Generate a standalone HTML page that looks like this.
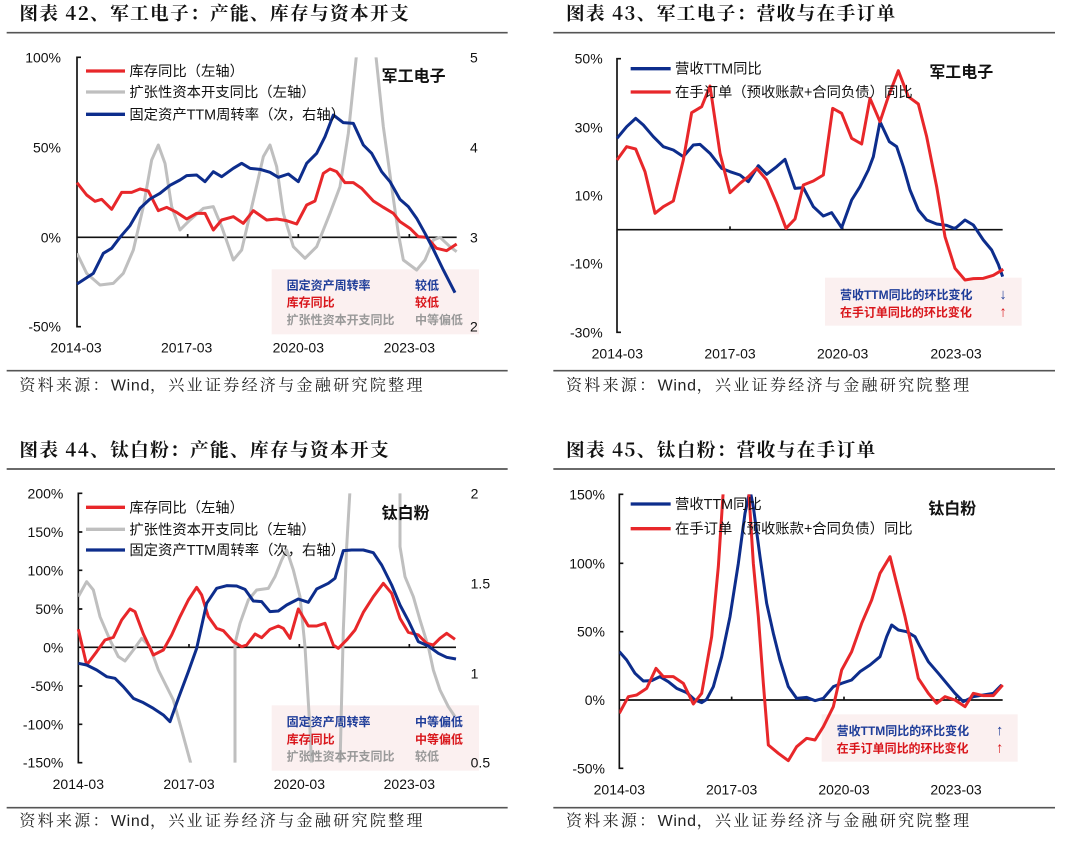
<!DOCTYPE html>
<html><head><meta charset="utf-8"><style>
html,body{margin:0;padding:0;background:#fff;}
svg{display:block;font-family:"Liberation Sans","Noto Sans CJK SC",sans-serif;}
.t{font-size:56px;font-weight:bold;fill:#111;letter-spacing:4px;font-family:"Noto Serif CJK SC","Liberation Serif",serif;}
.tk{font-size:42px;fill:#111;}
.lg{font-size:43px;fill:#111;}
.nm{font-size:48px;font-weight:bold;fill:#111;}
.an{font-size:36px;font-weight:bold;}
.ar{font-size:44px;}
.ft{font-size:48px;fill:#222;letter-spacing:7px;font-family:"Noto Serif CJK SC","Liberation Serif",serif;}
.ft tspan{font-family:"Liberation Sans",sans-serif;letter-spacing:2px;}
.r{fill:none;stroke:#e8272a;stroke-width:9;stroke-linejoin:round;}
.b{fill:none;stroke:#0d2d8c;stroke-width:9;stroke-linejoin:round;}
.g{fill:none;stroke:#bfbfbf;stroke-width:9;stroke-linejoin:round;}
.ax{stroke:#111;stroke-width:5;fill:none;}
.sep{stroke:#555;stroke-width:5;}
</style></head><body>
<svg width="1080" height="843" viewBox="0 0 1080 843" xmlns="http://www.w3.org/2000/svg">
<defs>
<clipPath id="c1"><rect x="231" y="172" width="1200" height="808"/></clipPath>
<clipPath id="c3"><rect x="235" y="190" width="1200" height="808"/></clipPath>
<clipPath id="c4"><rect x="238" y="193" width="1200" height="822"/></clipPath>
</defs>

<!-- Chart 42 -->
<g transform="scale(0.33333)">
<text class="t" x="58" y="60">图表 42、军工电子：产能、库存与资本开支</text>
<line class="sep" x1="20" y1="98" x2="1523" y2="98"/>
<rect x="815" y="808" width="622" height="195" fill="#fbf0f0"/>
<path class="ax" d="M243 172H231V980H243"/>
<line class="ax" x1="231" y1="712" x2="1370" y2="712"/>
<path class="ax" d="M563 712v-10M895 712v-10M1228 712v-10"/>
<g class="tk" text-anchor="end"><text x="183" y="187">100%</text><text x="183" y="457">50%</text><text x="183" y="727">0%</text><text x="183" y="995">-50%</text></g>
<g class="tk"><text x="1410" y="187">5</text><text x="1410" y="457">4</text><text x="1410" y="727">3</text><text x="1410" y="995">2</text></g>
<g class="tk" text-anchor="middle"><text x="228" y="1058">2014-03</text><text x="560" y="1058">2017-03</text><text x="895" y="1058">2020-03</text><text x="1228" y="1058">2023-03</text></g>
<g clip-path="url(#c1)">
<polyline class="g" points="231,760 260,820 300,855 340,850 370,820 400,750 430,620 455,480 475,435 495,490 515,620 540,690 570,660 610,625 640,620 665,680 700,780 725,750 760,600 790,470 810,435 830,500 850,640 880,740 915,775 950,740 990,640 1020,560 1045,400 1070,160 1080,100"/>
<polyline class="g" points="1120,100 1128,170 1150,380 1175,560 1195,700 1210,780 1250,810 1275,780 1300,720 1320,712 1350,740 1370,755"/>
</g>
<polyline class="r" points="231,548 260,585 285,604 305,598 335,628 365,577 395,577 420,567 445,573 475,632 500,622 530,637 560,657 590,640 615,640 640,690 665,660 700,650 730,670 760,632 800,660 830,657 860,662 890,672 920,615 945,603 970,520 990,507 1010,515 1035,548 1060,548 1085,565 1120,603 1150,622 1180,640 1200,665 1230,685 1255,710 1280,712 1310,745 1340,752 1370,732"/>
<polyline class="b" points="231,852 280,820 310,760 335,745 360,712 390,677 420,625 450,597 480,580 510,556 540,540 560,527 590,525 615,545 640,515 665,530 700,505 725,490 750,505 780,508 810,517 835,532 865,522 895,545 920,490 950,460 975,410 1000,345 1030,368 1060,370 1090,435 1115,460 1145,515 1170,545 1200,598 1225,620 1250,655 1275,700 1300,748 1330,810 1365,878"/>
<line x1="258" y1="213" x2="375" y2="213" stroke="#e8272a" stroke-width="10"/>
<line x1="258" y1="276" x2="375" y2="276" stroke="#bfbfbf" stroke-width="10"/>
<line x1="258" y1="343" x2="375" y2="343" stroke="#0d2d8c" stroke-width="10"/>
<g class="lg"><text x="388" y="228">库存同比（左轴）</text><text x="388" y="291">扩张性资本开支同比（左轴）</text><text x="388" y="358">固定资产TTM周转率（次，右轴）</text></g>
<text class="nm" x="1145" y="245">军工电子</text>
<g class="an"><text x="860" y="868" fill="#1f3d99">固定资产周转率</text><text x="1245" y="868" fill="#1f3d99">较低</text>
<text x="860" y="920" fill="#d9161b">库存同比</text><text x="1245" y="920" fill="#d9161b">较低</text>
<text x="860" y="972" fill="#999">扩张性资本开支同比</text><text x="1245" y="972" fill="#999">中等偏低</text></g>
<line class="sep" x1="20" y1="1112" x2="1523" y2="1112"/>
<text class="ft" x="58" y="1172">资料来源：<tspan>Wind</tspan>，兴业证券经济与金融研究院整理</text>
</g>

<!-- Chart 43 -->
<g transform="translate(540,0) scale(0.33333)">
<text class="t" x="78" y="60">图表 43、军工电子：营收与在手订单</text>
<line class="sep" x1="40" y1="98" x2="1545" y2="98"/>
<rect x="855" y="833" width="590" height="144" fill="#fbf0f0"/>
<path class="ax" d="M243 176H231V997H243"/>
<line class="ax" x1="231" y1="689" x2="1388" y2="689"/>
<path class="ax" d="M570 689v-10M908 689v-10M1246 689v-10"/>
<g class="tk" text-anchor="end"><text x="188" y="191">50%</text><text x="188" y="397">30%</text><text x="188" y="602">10%</text><text x="188" y="806">-10%</text><text x="188" y="1012">-30%</text></g>
<g class="tk" text-anchor="middle"><text x="232" y="1075">2014-03</text><text x="570" y="1075">2017-03</text><text x="908" y="1075">2020-03</text><text x="1248" y="1075">2023-03</text></g>
<polyline class="b" points="231,415 260,380 287,355 310,375 340,410 370,440 400,450 430,470 460,435 480,433 510,460 545,505 570,515 600,525 625,545 655,497 680,523 710,500 735,478 765,565 790,563 820,620 850,648 875,638 905,683 935,600 960,560 985,510 1000,470 1020,365 1048,425 1070,440 1090,500 1110,570 1135,630 1160,660 1190,672 1220,676 1245,686 1275,660 1300,675 1330,720 1355,750 1375,793 1388,830"/>
<polyline class="r" points="231,480 260,440 287,447 315,515 345,640 370,620 400,603 430,480 455,338 485,320 510,258 540,460 570,578 600,550 625,530 650,505 680,540 710,610 738,685 765,657 790,555 820,543 850,525 878,325 905,340 935,415 965,432 990,295 1020,365 1045,290 1075,212 1105,290 1135,312 1160,410 1190,560 1215,710 1245,805 1275,840 1300,836 1330,835 1360,826 1390,808"/>
<line x1="272" y1="206" x2="392" y2="206" stroke="#0d2d8c" stroke-width="10"/>
<line x1="272" y1="276" x2="392" y2="276" stroke="#e8272a" stroke-width="10"/>
<g class="lg"><text x="405" y="221">营收TTM同比</text><text x="405" y="291">在手订单（预收账款+合同负债）同比</text></g>
<text class="nm" x="1168" y="232">军工电子</text>
<g class="an"><text x="900" y="897" fill="#1f3d99">营收TTM同比的环比变化</text><text class="ar" x="1378" y="897" fill="#1f3d99">↓</text>
<text x="900" y="949" fill="#d9161b">在手订单同比的环比变化</text><text class="ar" x="1378" y="949" fill="#d9161b">↑</text></g>
<line class="sep" x1="40" y1="1112" x2="1545" y2="1112"/>
<text class="ft" x="78" y="1172">资料来源：<tspan>Wind</tspan>，兴业证券经济与金融研究院整理</text>
</g>

<!-- Chart 44 -->
<g transform="translate(0,430) scale(0.33333)">
<text class="t" x="58" y="80">图表 44、钛白粉：产能、库存与资本开支</text>
<line class="sep" x1="20" y1="117" x2="1523" y2="117"/>
<rect x="815" y="826" width="622" height="196" fill="#fbf0f0"/>
<path class="ax" d="M247 190H235V998H247"/>
<path class="ax" d="M235 306h12M235 421h12M235 537h12M235 768h12M235 883h12"/>
<line class="ax" x1="235" y1="652" x2="1368" y2="652"/>
<path class="ax" d="M567 652v-10M898 652v-10M1228 652v-10"/>
<g class="tk" text-anchor="end"><text x="190" y="205">200%</text><text x="190" y="321">150%</text><text x="190" y="436">100%</text><text x="190" y="552">50%</text><text x="190" y="667">0%</text><text x="190" y="783">-50%</text><text x="190" y="898">-100%</text><text x="190" y="1013">-150%</text></g>
<g class="tk"><text x="1412" y="205">2</text><text x="1412" y="475">1.5</text><text x="1412" y="745">1</text><text x="1412" y="1013">0.5</text></g>
<g class="tk" text-anchor="middle"><text x="235" y="1077">2014-03</text><text x="567" y="1077">2017-03</text><text x="898" y="1077">2020-03</text><text x="1228" y="1077">2023-03</text></g>
<g clip-path="url(#c3)">
<polyline class="g" points="235,500 260,455 280,480 300,560 330,630 355,680 375,693 400,660 425,625 450,650 475,720 500,770 520,810 545,900 575,1010"/>
<polyline class="g" points="705,1010 705,640 720,580 745,510 770,480 805,475 825,440 845,390 860,360 880,420 900,500 915,650 930,900 935,1010"/>
<polyline class="g" points="1020,1010 1025,800 1030,600 1040,350 1050,180"/>
<polyline class="g" points="1200,180 1200,350 1215,440 1240,500 1260,570 1285,650 1300,720 1320,780 1345,830 1365,860"/>
</g>
<polyline class="r" points="235,598 260,705 290,665 315,630 340,622 365,570 390,537 405,545 430,612 460,675 490,660 515,615 540,560 565,510 590,472 605,495 625,560 650,595 670,602 700,635 725,650 740,645 765,612 785,623 810,598 835,588 850,595 870,625 895,537 925,588 950,588 975,580 1000,645 1015,655 1040,630 1065,600 1090,547 1120,500 1150,460 1175,490 1200,565 1225,607 1255,615 1280,640 1300,645 1320,625 1340,610 1365,628"/>
<polyline class="b" points="235,700 260,705 290,720 320,740 345,745 370,770 400,805 430,818 460,835 490,855 510,875 535,805 565,725 590,655 620,520 650,475 680,467 710,468 735,478 760,513 785,515 810,545 835,543 860,525 895,507 925,517 950,477 985,460 1005,445 1030,362 1055,360 1090,360 1120,368 1145,405 1175,465 1200,525 1225,572 1255,635 1285,648 1315,670 1340,682 1368,687"/>
<line x1="258" y1="232" x2="375" y2="232" stroke="#e8272a" stroke-width="10"/>
<line x1="258" y1="298" x2="375" y2="298" stroke="#bfbfbf" stroke-width="10"/>
<line x1="258" y1="360" x2="375" y2="360" stroke="#0d2d8c" stroke-width="10"/>
<g class="lg"><text x="388" y="247">库存同比（左轴）</text><text x="388" y="313">扩张性资本开支同比（左轴）</text><text x="388" y="375">固定资产TTM周转率（次，右轴）</text></g>
<text class="nm" x="1145" y="265">钛白粉</text>
<g class="an"><text x="860" y="888" fill="#1f3d99">固定资产周转率</text><text x="1245" y="888" fill="#1f3d99">中等偏低</text>
<text x="860" y="940" fill="#d9161b">库存同比</text><text x="1245" y="940" fill="#d9161b">中等偏低</text>
<text x="860" y="992" fill="#999">扩张性资本开支同比</text><text x="1245" y="992" fill="#999">较低</text></g>
<line class="sep" x1="20" y1="1133" x2="1523" y2="1133"/>
<text class="ft" x="58" y="1188">资料来源：<tspan>Wind</tspan>，兴业证券经济与金融研究院整理</text>
</g>

<!-- Chart 45 -->
<g transform="translate(540,430) scale(0.33333)">
<text class="t" x="78" y="80">图表 45、钛白粉：营收与在手订单</text>
<line class="sep" x1="40" y1="117" x2="1545" y2="117"/>
<rect x="845" y="853" width="588" height="142" fill="#fbf0f0"/>
<path class="ax" d="M250 193H238V1015H250"/>
<path class="ax" d="M238 400h12M238 605h12"/>
<line class="ax" x1="238" y1="810" x2="1388" y2="810"/>
<path class="ax" d="M575 810v-10M912 810v-10M1248 810v-10"/>
<g class="tk" text-anchor="end"><text x="195" y="208">150%</text><text x="195" y="415">100%</text><text x="195" y="620">50%</text><text x="195" y="825">0%</text><text x="195" y="1030">-50%</text></g>
<g class="tk" text-anchor="middle"><text x="238" y="1093">2014-03</text><text x="575" y="1093">2017-03</text><text x="912" y="1093">2020-03</text><text x="1248" y="1093">2023-03</text></g>
<g clip-path="url(#c4)">
<polyline class="b" points="238,665 260,690 285,730 310,753 335,752 360,740 385,755 410,775 440,788 465,810 485,818 500,808 520,770 545,680 570,560 595,400 615,250 630,180 640,230 660,380 680,520 700,610 720,690 745,770 770,805 800,802 825,812 850,805 880,770 905,760 935,750 960,725 990,705 1020,680 1040,620 1055,585 1075,600 1100,605 1125,620 1140,650 1165,695 1195,730 1220,760 1245,790 1270,815 1300,800 1330,795 1360,790 1385,765"/>
<polyline class="r" points="238,850 265,800 290,795 320,775 348,715 370,740 400,740 430,760 460,822 485,790 515,620 535,410 550,180"/>
<polyline class="r" points="626,180 640,400 655,560 670,760 685,945 715,970 745,992 770,950 800,925 825,930 850,890 880,830 905,720 935,665 965,580 995,510 1020,430 1050,380 1070,460 1095,560 1115,650 1135,745 1165,790 1190,820 1215,800 1245,810 1275,830 1300,790 1330,797 1360,797 1388,765"/>
</g>
<line x1="272" y1="222" x2="392" y2="222" stroke="#0d2d8c" stroke-width="10"/>
<line x1="272" y1="296" x2="392" y2="296" stroke="#e8272a" stroke-width="10"/>
<g class="lg"><text x="405" y="237">营收TTM同比</text><text x="405" y="311">在手订单（预收账款+合同负债）同比</text></g>
<text class="nm" x="1165" y="252">钛白粉</text>
<g class="an"><text x="890" y="915" fill="#1f3d99">营收TTM同比的环比变化</text><text class="ar" x="1368" y="915" fill="#1f3d99">↑</text>
<text x="890" y="967" fill="#d9161b">在手订单同比的环比变化</text><text class="ar" x="1368" y="967" fill="#d9161b">↑</text></g>
<line class="sep" x1="40" y1="1133" x2="1545" y2="1133"/>
<text class="ft" x="78" y="1188">资料来源：<tspan>Wind</tspan>，兴业证券经济与金融研究院整理</text>
</g>
</svg>
</body></html>
